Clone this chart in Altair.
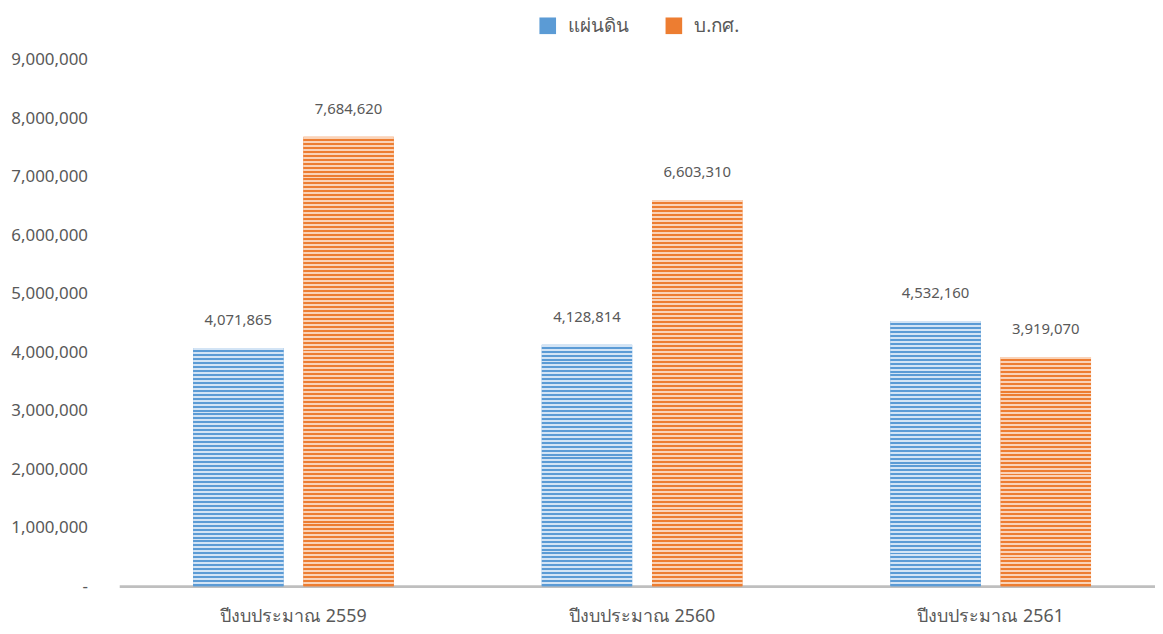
import altair as alt
import pandas as pd

categories = ["ปีงบประมาณ 2559", "ปีงบประมาณ 2560", "ปีงบประมาณ 2561"]
series = ["แผ่นดิน", "บ.กศ."]
values_land = [4071865, 4128814, 4532160]
values_bks = [7684620, 6603310, 3919070]
y_ticks = [0, 1000000, 2000000, 3000000, 4000000, 5000000, 6000000, 7000000, 8000000, 9000000]

rows = []
for c, a, b in zip(categories, values_land, values_bks):
    rows.append({"cat": c, "series": series[0], "value": a})
    rows.append({"cat": c, "series": series[1], "value": b})
df = pd.DataFrame(rows)

W, H = 1043, 530
XR = 1053
YMAX = 9000000
FONT = "Noto Sans, Tahoma, sans-serif"
dark = {series[0]: "#5B9BD5", series[1]: "#ED7D31"}
light = {series[0]: "#D3E4F5", series[1]: "#FAD3B8"}


def stripes(val, s):
    n = max(1, round(val / YMAX * H / 4.0))
    stops = []
    for i in range(n):
        a = i / n
        m = (i + 0.5) / n
        b = (i + 1) / n
        stops += [
            {"offset": a, "color": light[s]},
            {"offset": m, "color": light[s]},
            {"offset": m, "color": dark[s]},
            {"offset": b, "color": dark[s]},
        ]
    return {"gradient": "linear", "x1": 0, "y1": 0, "x2": 0, "y2": 1, "stops": stops}


x_enc = alt.X(
    "cat:N",
    sort=categories,
    scale=alt.Scale(paddingInner=0.4245, paddingOuter=0.212, range=[0, XR]),
    axis=alt.Axis(
        title=None, labelAngle=0, ticks=False, domainColor="#BFBFBF", domainWidth=3,
        labelFontSize=18, labelColor="#595959", labelFont=FONT, labelPadding=22,
    ),
)
xo_enc = alt.XOffset("series:N", sort=series, scale=alt.Scale(paddingInner=0.18, paddingOuter=0))
y_enc = alt.Y(
    "value:Q",
    scale=alt.Scale(domain=[0, YMAX]),
    axis=alt.Axis(
        title=None, values=y_ticks, domain=False, ticks=False, grid=False,
        labelFontSize=17, labelColor="#595959", labelFont=FONT, labelPadding=32,
        labelExpr="datum.value == 0 ? '-\u00a0\u00a0\u00a0' : format(datum.value, ',')",
    ),
)

base = alt.Chart(df).encode(x=x_enc, xOffset=xo_enc, y=y_enc)

bars = base.mark_bar().encode(
    color=alt.Color(
        "series:N", sort=series,
        scale=alt.Scale(domain=series, range=[dark[series[0]], dark[series[1]]]),
        legend=alt.Legend(
            title=None, orient="none", direction="horizontal", legendX=422, legendY=-44,
            symbolType="square", symbolSize=280, symbolStrokeWidth=0,
            labelFontSize=19, labelColor="#595959", labelFont=FONT, columnPadding=36,
            labelOffset=11,
        ),
    )
)

layers = [bars]
for c, a, b in zip(categories, values_land, values_bks):
    for s, v in ((series[0], a), (series[1], b)):
        layers.append(
            base.transform_filter(
                (alt.datum.cat == c) & (alt.datum.series == s)
            ).mark_bar(fill=stripes(v, s))
        )

labels = base.mark_text(dy=-28, fontSize=15, color="#595959", font=FONT).encode(
    text=alt.Text("value:Q", format=",")
)
layers.append(labels)

chart = alt.layer(*layers).properties(
    width=W, height=H,
    autosize=alt.AutoSizeParams(type="none"),
    padding={"left": 112, "top": 50, "right": 0, "bottom": 42},
).configure_view(stroke=None)

chart.save("out.html", embed_options={"renderer": "svg", "actions": False})
